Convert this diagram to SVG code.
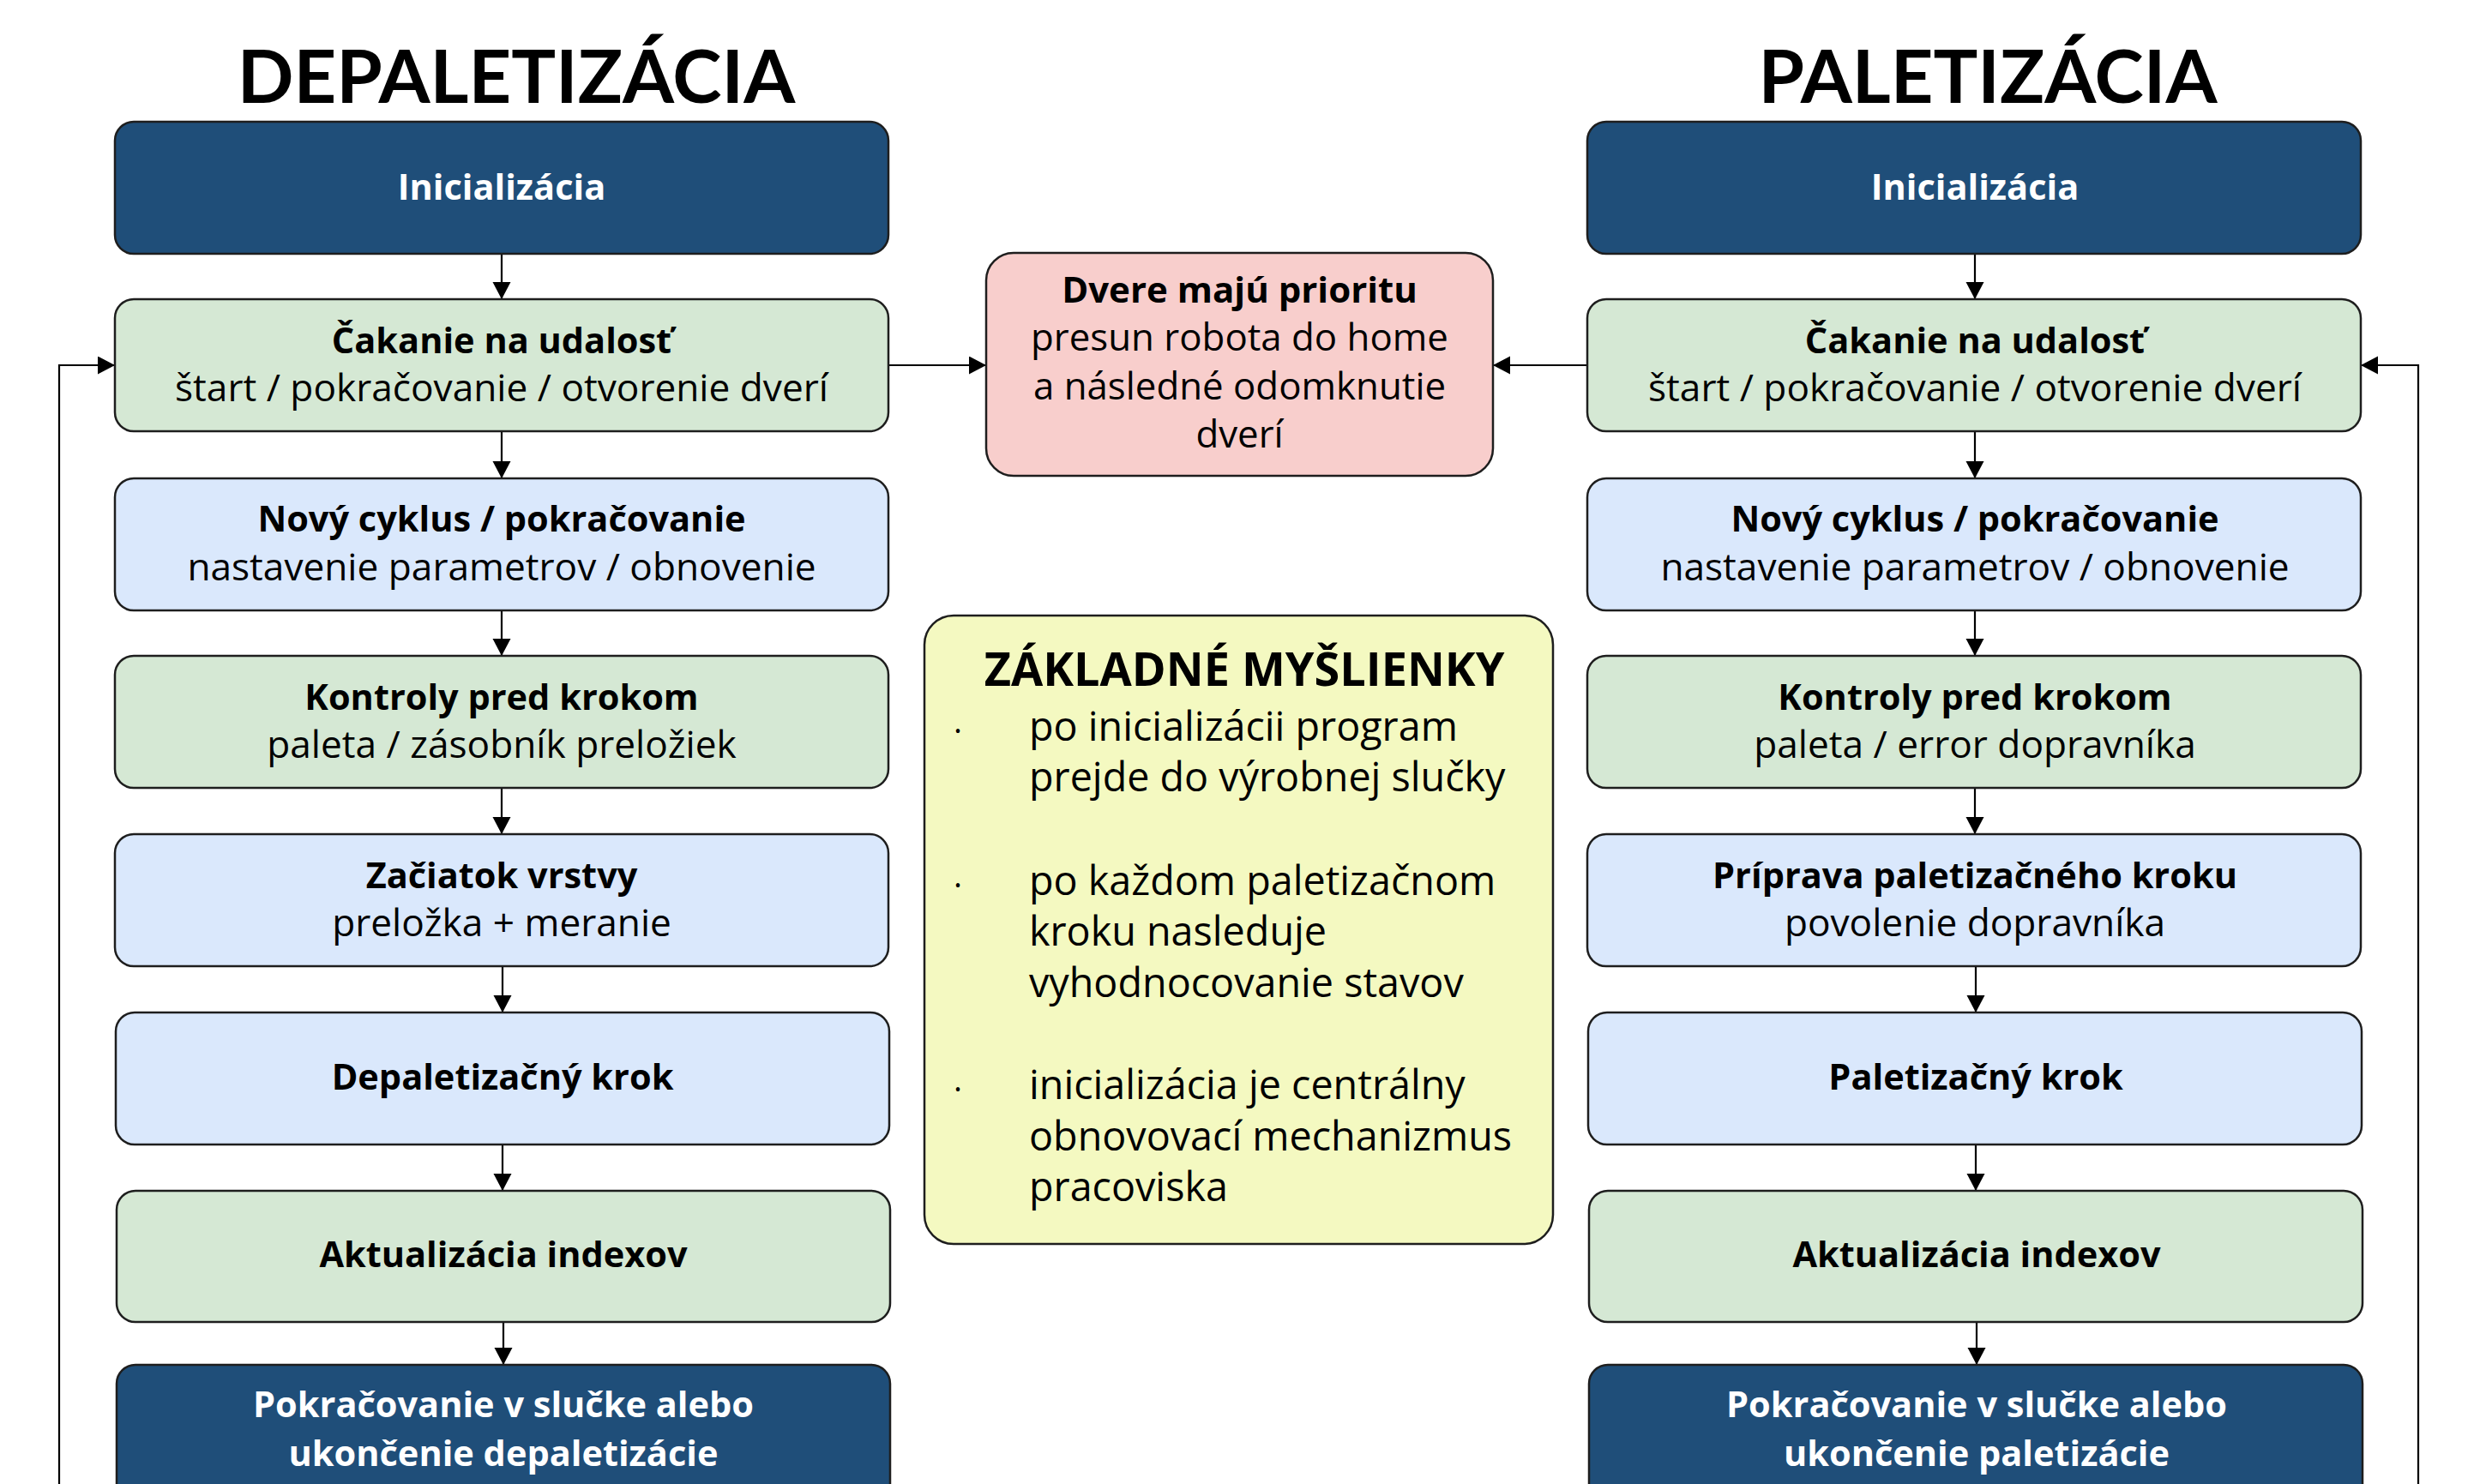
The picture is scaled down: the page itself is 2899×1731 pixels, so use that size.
<svg xmlns="http://www.w3.org/2000/svg" width="2899" height="1731" viewBox="0 0 2899 1731">
<style>
.bg{fill:#ffffff}
.box{stroke:#1e1e1e;stroke-width:2.5}
.dark{fill:#1F4E79}
.green{fill:#D5E8D4}
.blue{fill:#DAE8FC}
.pink{fill:#F8CECC}
.yellow{fill:#F4F9C1}
.t{font-family:"Open Sans","Noto Sans",sans-serif;text-anchor:middle;font-size:44.2px;fill:#000000}
.b{font-weight:700;font-size:41.5px}
.w{fill:#ffffff}
.h{font-family:Lato,"Liberation Sans",sans-serif;text-anchor:middle;font-size:86.5px;font-weight:700;fill:#000000}
.y{font-family:"Open Sans","Noto Sans",sans-serif;font-size:46.7px;fill:#000000}
.conn{stroke:#000000;stroke-width:2.2;fill:none}
</style>
<defs>
<marker id="ar" markerUnits="userSpaceOnUse" markerWidth="22" markerHeight="22" refX="20" refY="10.5" orient="auto">
<path d="M0,0 L20,10.5 L0,21 Z" fill="#000000"/>
</marker>
</defs>
<rect class="bg" x="0" y="0" width="2899" height="1731"/>

<g id="titles">
<text class="h" x="602" y="120">DEPALETIZÁCIA</text>
<text class="h" x="2318" y="120">PALETIZÁCIA</text>
</g>

<g id="connectors">
<path class="conn" marker-end="url(#ar)" d="M585,296 V349"/>
<path class="conn" marker-end="url(#ar)" d="M585,503 V558"/>
<path class="conn" marker-end="url(#ar)" d="M585,712 V765"/>
<path class="conn" marker-end="url(#ar)" d="M585,919 V973"/>
<path class="conn" marker-end="url(#ar)" d="M586,1127 V1181"/>
<path class="conn" marker-end="url(#ar)" d="M586,1335 V1389"/>
<path class="conn" marker-end="url(#ar)" d="M587,1542 V1592"/>
<path class="conn" marker-end="url(#ar)" d="M2303,296 V349"/>
<path class="conn" marker-end="url(#ar)" d="M2303,503 V558"/>
<path class="conn" marker-end="url(#ar)" d="M2303,712 V765"/>
<path class="conn" marker-end="url(#ar)" d="M2303,919 V973"/>
<path class="conn" marker-end="url(#ar)" d="M2304,1127 V1181"/>
<path class="conn" marker-end="url(#ar)" d="M2304,1335 V1389"/>
<path class="conn" marker-end="url(#ar)" d="M2305,1542 V1592"/>
<path class="conn" marker-end="url(#ar)" d="M1036,426 H1150"/>
<path class="conn" marker-end="url(#ar)" d="M1851,426 H1741"/>
<path class="conn" marker-end="url(#ar)" d="M69,1735 V426 H134"/>
<path class="conn" marker-end="url(#ar)" d="M2820,1735 V426 H2753"/>
</g>

<g id="dep-init">
<rect class="box dark" x="134" y="142" width="902" height="154" rx="22"/>
<text class="t b w" x="585" y="233">Inicializácia</text>
</g>
<g id="dep-wait">
<rect class="box green" x="134" y="349" width="902" height="154" rx="22"/>
<text class="t b" x="585" y="412">Čakanie na udalosť</text>
<text class="t" x="585" y="468">štart / pokračovanie / otvorenie dverí</text>
</g>
<g id="dep-new">
<rect class="box blue" x="134" y="558" width="902" height="154" rx="22"/>
<text class="t b" x="585" y="620">Nový cyklus / pokračovanie</text>
<text class="t" x="585" y="677">nastavenie parametrov / obnovenie</text>
</g>
<g id="dep-check">
<rect class="box green" x="134" y="765" width="902" height="154" rx="22"/>
<text class="t b" x="585" y="828">Kontroly pred krokom</text>
<text class="t" x="585" y="884">paleta / zásobník preložiek</text>
</g>
<g id="dep-layer">
<rect class="box blue" x="134" y="973" width="902" height="154" rx="22"/>
<text class="t b" x="585" y="1036">Začiatok vrstvy</text>
<text class="t" x="585" y="1092">preložka + meranie</text>
</g>
<g id="dep-step">
<rect class="box blue" x="135" y="1181" width="902" height="154" rx="22"/>
<text class="t b" x="586" y="1271">Depaletizačný krok</text>
</g>
<g id="dep-index">
<rect class="box green" x="136" y="1389" width="902" height="153" rx="22"/>
<text class="t b" x="587" y="1478">Aktualizácia indexov</text>
</g>
<g id="dep-end">
<rect class="box dark" x="136" y="1592" width="902" height="190" rx="22"/>
<text class="t b w" x="587" y="1653">Pokračovanie v slučke alebo</text>
<text class="t b w" x="587" y="1710">ukončenie depaletizácie</text>
</g>

<g id="pal-init">
<rect class="box dark" x="1851" y="142" width="902" height="154" rx="22"/>
<text class="t b w" x="2303" y="233">Inicializácia</text>
</g>
<g id="pal-wait">
<rect class="box green" x="1851" y="349" width="902" height="154" rx="22"/>
<text class="t b" x="2303" y="412">Čakanie na udalosť</text>
<text class="t" x="2303" y="468">štart / pokračovanie / otvorenie dverí</text>
</g>
<g id="pal-new">
<rect class="box blue" x="1851" y="558" width="902" height="154" rx="22"/>
<text class="t b" x="2303" y="620">Nový cyklus / pokračovanie</text>
<text class="t" x="2303" y="677">nastavenie parametrov / obnovenie</text>
</g>
<g id="pal-check">
<rect class="box green" x="1851" y="765" width="902" height="154" rx="22"/>
<text class="t b" x="2303" y="828">Kontroly pred krokom</text>
<text class="t" x="2303" y="884">paleta / error dopravníka</text>
</g>
<g id="pal-prep">
<rect class="box blue" x="1851" y="973" width="902" height="154" rx="22"/>
<text class="t b" x="2303" y="1036">Príprava paletizačného kroku</text>
<text class="t" x="2303" y="1092">povolenie dopravníka</text>
</g>
<g id="pal-step">
<rect class="box blue" x="1852" y="1181" width="902" height="154" rx="22"/>
<text class="t b" x="2304" y="1271">Paletizačný krok</text>
</g>
<g id="pal-index">
<rect class="box green" x="1853" y="1389" width="902" height="153" rx="22"/>
<text class="t b" x="2305" y="1478">Aktualizácia indexov</text>
</g>
<g id="pal-end">
<rect class="box dark" x="1853" y="1592" width="902" height="190" rx="22"/>
<text class="t b w" x="2305" y="1653">Pokračovanie v slučke alebo</text>
<text class="t b w" x="2305" y="1710">ukončenie paletizácie</text>
</g>

<g id="door">
<rect class="box pink" x="1150" y="295" width="591" height="260" rx="32"/>
<text class="t b" x="1445.5" y="353" style="font-size:42px">Dvere majú prioritu</text>
<text class="t" x="1445.5" y="409" style="font-size:43.8px">presun robota do home</text>
<text class="t" x="1445.5" y="466" style="font-size:43.8px">a následné odomknutie</text>
<text class="t" x="1445.5" y="522" style="font-size:43.8px">dverí</text>
</g>

<g id="ideas">
<rect class="box yellow" x="1078" y="718" width="733" height="733" rx="34"/>
<text class="t b" x="1451" y="800" style="font-size:54px">ZÁKLADNÉ MYŠLIENKY</text>
<text class="y" x="1112" y="866" style="font-size:38px">·</text>
<text class="y" x="1200" y="864">po inicializácii program</text>
<text class="y" x="1200" y="923">prejde do výrobnej slučky</text>
<text class="y" x="1112" y="1046" style="font-size:38px">·</text>
<text class="y" x="1200" y="1044">po každom paletizačnom</text>
<text class="y" x="1200" y="1103">kroku nasleduje</text>
<text class="y" x="1200" y="1163">vyhodnocovanie stavov</text>
<text class="y" x="1112" y="1284" style="font-size:38px">·</text>
<text class="y" x="1200" y="1282">inicializácia je centrálny</text>
<text class="y" x="1200" y="1342">obnovovací mechanizmus</text>
<text class="y" x="1200" y="1401">pracoviska</text>
</g>
</svg>
